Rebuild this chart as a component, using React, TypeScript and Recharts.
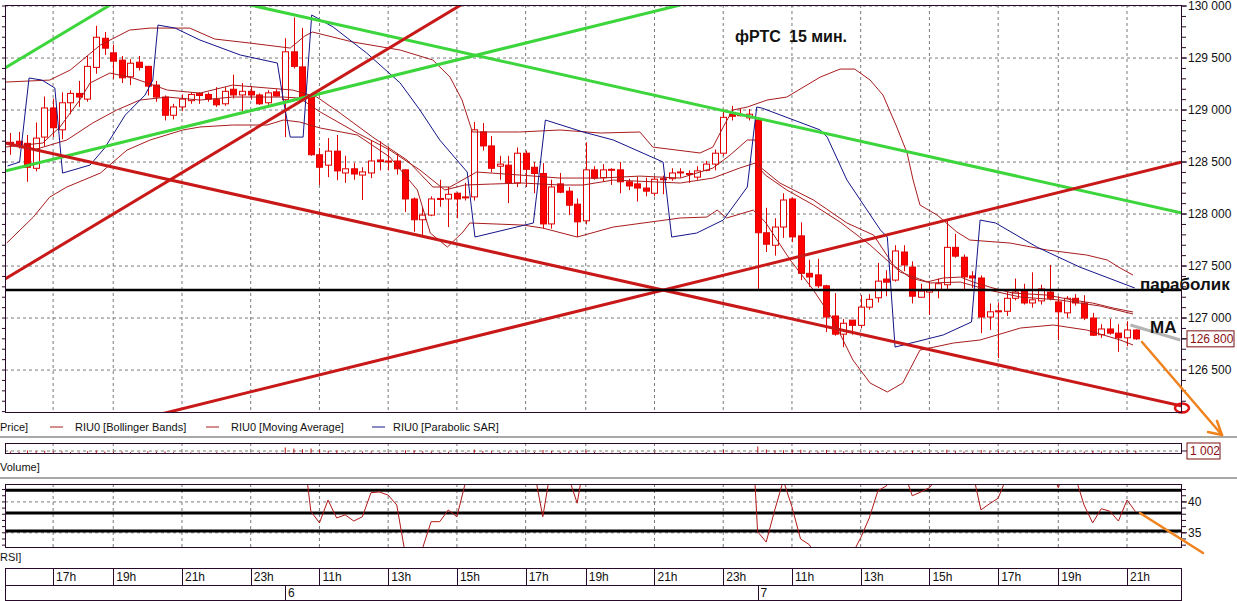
import React from "react";
import {
  Bar,
  CartesianGrid,
  ComposedChart,
  Line,
  ReferenceDot,
  ReferenceLine,
  XAxis,
  YAxis,
} from "recharts";

// RIU0 15 min candles, day 5 15:45 .. day 7 21:15 (index = candle number)
const opens = [
  128690, 128700, 128680, 128440, 128740, 129020, 128810, 129070, 129160, 129105,
  129410, 129690, 129550, 129480, 129320, 129460, 129420, 129240, 129125, 128950,
  129030, 129090, 129160, 129150, 129100, 129060, 129200, 129145, 129180, 129145,
  129070, 129175, 129100, 129560, 129415, 129125, 128570, 128470, 128605, 128395,
  128435, 128375, 128395, 128520, 128510, 128510, 128425, 128145, 127945, 127990,
  128150, 128145, 128200, 128165, 128165, 128790, 128655, 128460, 128470, 128300,
  128585, 128450, 128390, 127905, 128290, 128220, 128095, 127935, 128425, 128350,
  128420, 128425, 128310, 128290, 128250, 128200, 128330, 128340, 128400, 128390,
  128355, 128420, 128480, 128585, 128960, 128950, 128925, 128905, 127820, 127700,
  127875, 128145, 127790, 127430, 127415, 127310, 127020, 126845, 126980, 126930,
  127105, 127195, 127375, 127365, 127635, 127490, 127200, 127250, 127270, 127320,
  127680, 127585, 127405, 127385, 127010, 127060, 127065, 127190, 127270, 127145,
  127165, 127250, 127155, 127050, 127190, 127145, 127000, 126840, 126895, 126855,
  126810, 126885,
];
const highs = [
  128780, 128790, 128760, 128880, 129130, 129110, 129170, 129190, 129280, 129520,
  129810, 129750, 129630, 129520, 129490, 129520, 129425, 129280, 129140, 129060,
  129150, 129170, 129170, 129170, 129220, 129220, 129340, 129260, 129230, 129160,
  129190, 129200, 129690, 129890, 129790, 129150, 128635, 128730, 128760, 128560,
  128490, 128450, 128710, 128700, 128650, 128580, 128430, 128160, 128070, 128170,
  128330, 128260, 128210, 128300, 128885, 128875, 128750, 128560, 128560, 128640,
  128610, 128500, 128490, 128330, 128395, 128260, 128150, 128690, 128460, 128480,
  128440, 128500, 128340, 128360, 128350, 128360, 128370, 128440, 128440, 128420,
  128460, 128510, 128620, 129010, 129040, 129010, 129010, 128930, 128060, 127960,
  128200, 128160, 127920, 127560, 127570, 127320, 127240, 126990, 126980, 127220,
  127230, 127530, 127460, 127700, 127700, 127545, 127330, 127340, 127380, 127940,
  127810, 127610, 127450, 127410, 127140, 127150, 127250, 127380, 127330, 127440,
  127320, 127510, 127210, 127210, 127230, 127220, 127050, 126940, 126990, 126940,
  126970, 126890,
];
const lows = [
  128570, 128630, 128310, 128410, 128650, 128740, 128720, 128960, 129030, 129080,
  129350, 129530, 129300, 129260, 129240, 129380, 129140, 129080, 128900, 128910,
  128990, 129060, 129060, 129080, 129030, 129040, 129110, 128990, 129100, 129050,
  129050, 129130, 128740, 129400, 129100, 128560, 128280, 128355, 128325, 128300,
  128330, 128135, 128345, 128420, 128420, 128380, 128020, 127830, 127790, 127980,
  128070, 127875, 127960, 128130, 128130, 128610, 128400, 128330, 128105, 128260,
  128260, 128200, 127860, 127860, 128200, 127990, 127780, 127900, 128330, 128310,
  128280, 128200, 128230, 128120, 128170, 128170, 128190, 128320, 128350, 128300,
  128330, 128410, 128420, 128560, 128900, 128940, 128900, 127280, 127635, 127600,
  127770, 127730, 127365, 127300, 127290, 126865, 126830, 126720, 126840, 126900,
  127080, 127150, 127210, 127350, 127450, 127140, 127200, 127030, 127190, 127270,
  127580, 127280, 127290, 126855, 126885, 126615, 127020, 127170, 127130, 127100,
  127130, 127170, 126790, 127000, 127120, 126980, 126830, 126810, 126840, 126675,
  126730, 126790,
];
const closes = [
  128670, 128670, 128450, 128730, 129020, 128830, 129070, 129160, 129125, 129420,
  129700, 129595, 129470, 129310, 129450, 129410, 129230, 129125, 128950, 129030,
  129105, 129150, 129140, 129105, 129050, 129180, 129145, 129180, 129145, 129060,
  129165, 129135, 129560, 129420, 129125, 128570, 128450, 128605, 128415, 128435,
  128385, 128405, 128510, 128505, 128505, 128435, 128145, 127945, 127990, 128145,
  128140, 128190, 128145, 128155, 128810, 128655, 128440, 128480, 128300, 128585,
  128430, 128390, 127905, 128260, 128210, 128085, 127925, 128425, 128345, 128425,
  128430, 128310, 128270, 128250, 128220, 128335, 128340, 128395, 128405, 128380,
  128415, 128480, 128585, 128930, 128940, 128955, 128960, 127820, 127710, 127875,
  128135, 127780, 127430, 127395, 127310, 127010, 126845, 126950, 126930, 127105,
  127180, 127355, 127345, 127645, 127510, 127210, 127260, 127270, 127330, 127680,
  127595, 127395, 127385, 127010, 127060, 127070, 127190, 127250, 127145, 127175,
  127280, 127190, 127060, 127190, 127145, 127000, 126835, 126895, 126855, 126810,
  126885, 126800,
];
const volumes = [
  700, 500, 1300, 900, 1100, 800, 700, 500, 400, 900,
  1200, 700, 600, 800, 500, 400, 900, 600, 700, 400,
  300, 350, 250, 300, 400, 350, 300, 250, 300, 350,
  300, 200, 2800, 2200, 1900, 2300, 1500, 1100, 1200, 600,
  500, 700, 800, 400, 350, 500, 1400, 1300, 900, 700,
  500, 600, 400, 350, 1700, 1000, 900, 500, 800, 700,
  600, 500, 1500, 1000, 600, 700, 800, 1300, 600, 400,
  300, 500, 400, 350, 300, 500, 300, 350, 300, 250,
  400, 500, 700, 1600, 600, 300, 400, 3200, 1800, 1300,
  1400, 1500, 1600, 800, 700, 1500, 1300, 900, 600, 800,
  700, 1000, 500, 900, 800, 1100, 500, 600, 500, 1600,
  900, 800, 600, 1500, 700, 900, 600, 500, 700, 600,
  500, 700, 900, 600, 500, 800, 1000, 700, 600, 700,
  800, 1002,
];
const rsiValues = [
  52, 51, 45, 53, 60, 55, 60, 62, 61, 66,
  72, 68, 65, 60, 63, 61, 56, 53, 48, 51,
  53, 55, 54, 53, 51, 55, 53, 54, 53, 50,
  54, 53, 64, 58, 50, 38.5, 36.6, 40.3, 37.4, 37.9,
  36.9, 37.6, 41.5, 41.6, 41.1, 39.5, 31.5, 29, 32.5, 36.8,
  36.8, 38.7, 37.6, 43.2, 52, 48, 46, 46, 45, 48,
  46, 45, 37.6, 46, 45, 44, 39.8, 48, 47, 48,
  48, 46, 45, 44.5, 44, 47, 47, 48, 48, 47.5,
  48.5, 50, 53, 62, 61, 61, 61, 35.2, 33.5, 38.7,
  43.5, 39.2, 34.0, 33.1, 31, 28, 27, 29, 31.5, 34.2,
  37.4, 41.8, 42.6, 46, 45, 41.0, 41.6, 42.3, 44, 52,
  50, 47, 45, 38.7, 39.7, 40.6, 44, 46, 45, 47,
  48, 46, 42.3, 46, 44, 39.5, 36.6, 38.9, 38.5, 36.9,
  40.3, 38.4,
];

// indicator curves: [candle index, price]
const bbUpper = [
  [-0.6, 129269], [4.6, 129288], [7.0, 129385], [10.5, 129625], [13.9, 129769],
  [16.3, 129788], [20.9, 129788], [23.8, 129683], [27.9, 129644], [32.6, 129596],
  [34.3, 129712], [35.2, 129750], [39.9, 129654], [45.4, 129577], [49.2, 129481],
  [51.2, 129317], [52.6, 129096], [53.8, 128789], [59.3, 128789], [64.0, 128808],
  [68.7, 128779], [73.3, 128789], [74.8, 128644], [80.3, 128587], [81.8, 128644],
  [83.0, 128837], [84.1, 129000], [85.8, 129029], [88.1, 129096], [90.4, 129125],
  [94.3, 129317], [96.6, 129394], [98.3, 129394], [100.1, 129288], [101.6, 129144],
  [103.2, 128837], [104.4, 128587], [105.1, 128327], [105.9, 128087], [107.9, 127990],
  [110.2, 127827], [111.7, 127750], [116.4, 127721], [120.7, 127654], [125.3, 127606],
  [127.7, 127558], [129.2, 127481], [130.7, 127413],
];
const bbMiddle = [
  [-0.6, 128644], [3.8, 128683], [5.8, 128837], [8.1, 129096], [9.3, 129260],
  [11.6, 129356], [14.3, 129308], [18.3, 129192], [22.1, 129163], [25.9, 129240],
  [29.9, 129212], [32.9, 129192], [35.7, 129125], [38.4, 128971], [42.2, 128740],
  [46.2, 128519], [49.2, 128260], [51.2, 128260], [54.3, 128404], [59.3, 128375],
  [64.0, 128346], [68.7, 128346], [73.3, 128365], [78.0, 128346], [81.8, 128442],
  [83.8, 128567], [85.8, 128712], [86.7, 128712], [87.3, 128452], [89.6, 128298],
  [93.5, 128135], [97.4, 127914], [100.5, 127798], [102.8, 127510], [104.8, 127385],
  [106.7, 127346], [108.6, 127385], [110.6, 127394], [112.1, 127346], [114.4, 127289],
  [116.7, 127240], [120.7, 127221], [123.7, 127173], [126.0, 127144], [128.4, 127096],
  [130.7, 127058],
];
const maLine = [
  [2.7, 128615], [6.6, 128712], [9.6, 128875], [12.4, 129000], [15.1, 129096],
  [18.3, 129125], [22.1, 129096], [25.9, 129125], [31.8, 129125], [33.7, 129115],
  [36.1, 128981], [40.4, 128779], [44.2, 128615], [47.7, 128423], [50.6, 128231],
  [52.9, 128279], [55.9, 128288], [59.7, 128298], [64.0, 128279], [66.7, 128279],
  [70.2, 128327], [78.0, 128298], [81.8, 128346], [84.9, 128442], [86.7, 128490],
  [87.9, 128375], [90.4, 128231], [93.5, 128087], [96.6, 127923], [100.1, 127702],
  [103.6, 127442], [107.1, 127337], [110.6, 127346], [113.9, 127269], [117.6, 127202],
  [122.2, 127173], [126.9, 127115], [130.7, 127039],
];
const bbLower = [
  [-0.4, 127721], [2.7, 127971], [4.6, 128163], [6.6, 128260], [10.5, 128394],
  [13.6, 128615], [16.3, 128712], [20.1, 128808], [22.1, 128837], [25.9, 128856],
  [29.9, 128856], [31.8, 128904], [33.7, 128885], [36.1, 128827], [40.4, 128760],
  [44.2, 128548], [47.4, 128231], [48.9, 127817], [50.9, 127683], [52.7, 127827],
  [53.5, 127914], [59.7, 127894], [62.0, 127865], [66.0, 127779], [70.2, 127875],
  [78.0, 127962], [81.1, 127971], [82.3, 128038], [83.4, 127962], [86.5, 128038],
  [87.9, 127923], [90.8, 127558], [93.5, 127269], [95.8, 126981], [98.1, 126596],
  [100.1, 126375], [102.1, 126289], [103.9, 126375], [105.9, 126692], [109.8, 126760],
  [112.9, 126789], [117.6, 126904], [121.4, 126933], [125.3, 126885], [129.2, 126789],
  [130.7, 126741],
];
const parabolicSar = [
  [-0.3, 128462], [1.1, 128500], [2.2, 129308], [3.7, 129288], [5.2, 129212],
  [6.1, 128394], [9.3, 128471], [11.0, 128635], [13.4, 128952], [15.7, 129144],
  [16.6, 129288], [17.2, 129817], [19.2, 129788], [22.1, 129673], [26.8, 129529],
  [31.1, 129452], [31.8, 129096], [32.6, 128740], [34.1, 128740], [35.1, 129914],
  [37.6, 129798], [41.5, 129548], [45.4, 129260], [47.7, 129000], [50.0, 128712],
  [53.2, 128404], [54.1, 127779], [60.9, 127914], [62.3, 128904], [66.7, 128789],
  [70.2, 128712], [76.0, 128500], [77.0, 127779], [79.9, 127817], [83.0, 127942],
  [85.8, 128260], [86.9, 129029], [87.5, 129019], [94.3, 128808], [95.1, 128740],
  [97.4, 128327], [101.3, 127846], [102.1, 127779], [103.0, 126721], [108.6, 126837],
  [111.9, 126962], [112.9, 127942], [114.7, 127914], [119.5, 127683], [124.5, 127490],
  [130.9, 127289],
];

// hand drawn trend lines
const greenLine1 = [[-0.6, 129404], [22.1, 130529]];
const greenLine2 = [[-0.6, 128413], [136.4, 131197]];
const greenLine3 = [[-0.6, 130536], [136.4, 128010]];
const redLine1 = [[-0.6, 127375], [68.7, 130817]];
const redLine2 = [[-0.6, 128683], [136.4, 126154]];
const redLine3 = [[-0.6, 125707], [136.4, 128500]];
const maExtension = [[130.4, 126933], [136.2, 126789]];
const parabolicLevel = 127270;

const timeTicks = [5, 12, 20, 28, 36, 44, 52, 60, 67, 75, 83, 91, 99, 107, 115, 122, 130];
const timeLabels = ["17h", "19h", "21h", "23h", "11h", "13h", "15h", "17h", "19h", "21h", "23h", "11h", "13h", "15h", "17h", "19h", "21h"];
const dayTicks = [32, 87];
const dayLabels = ["6", "7"];

const priceTicks = [126500, 127000, 127500, 128000, 128500, 129000, 129500, 130000];
const priceMinor = Array.from({ length: 40 }, (_, k) => 126100 + k * 100);
const rsiTicks = [35, 40];
const rsiMinor = [33, 34, 35, 36, 37, 38, 39, 40, 41, 42];
const rsiLevels = [41.9, 38.2, 35.3];

const W = 1237;
const X_DOMAIN = [-0.6, 136.4];
const P_DOMAIN = [126087, 130010];
const FRAME = "#2a0a2a";
const IND = "#a81c1c";
const FONT = "'Liberation Sans', Arial, sans-serif";

const candles = opens.map((o, i) => ({
  i,
  open: o,
  high: highs[i],
  low: lows[i],
  close: closes[i],
  range: [lows[i], highs[i]],
  vol: volumes[i],
  rsi: rsiValues[i],
}));
const pts = (a: number[][]) => a.map(([i, v]) => ({ i, v }));

const fmt = (v: number) => String(v).replace(/\B(?=(\d{3})+(?!\d))/g, " ");

const Candle = (p: any) => {
  const { x, y, width, height, payload } = p;
  if (x == null || y == null) return <g />;
  const top = Math.min(y, y + height);
  const h = Math.abs(height);
  const { open, close, high, low } = payload;
  const k = high === low ? 0 : h / (high - low);
  const yO = top + (high - open) * k;
  const yC = top + (high - close) * k;
  const bTop = Math.min(yO, yC);
  const bH = Math.max(1, Math.abs(yO - yC));
  const cx = Math.round(x + width / 2) + 0.5;
  const up = close >= open;
  return (
    <g>
      <line x1={cx} x2={cx} y1={top} y2={top + h} stroke="#e00000" />
      <rect
        x={cx - 3}
        y={bTop}
        width={6}
        height={bH}
        fill={up ? "#ffffff" : "#ff0000"}
        stroke="#e00000"
      />
    </g>
  );
};

const Empty = () => <g />;

const PriceTick = (p: any) => {
  const v = p.payload.value;
  if (v % 500 !== 0) return <g />;
  return (
    <g>
      <line x1={p.x - 6} x2={p.x - 1} y1={p.y} y2={p.y} stroke={FRAME} />
      <text x={p.x} y={p.y} dy={4} fontSize={12} fill="#111" fontFamily={FONT}>
        {fmt(v)}
      </text>
    </g>
  );
};

const RsiTick = (p: any) => {
  const v = p.payload.value;
  if (!rsiTicks.includes(v)) return <g />;
  return (
    <g>
      <line x1={p.x - 6} x2={p.x - 1} y1={p.y} y2={p.y} stroke={FRAME} />
      <text x={p.x} y={p.y} dy={4} fontSize={12} fill="#111" fontFamily={FONT}>
        {v}
      </text>
    </g>
  );
};

const HourTick = (p: any) => {
  const idx = timeTicks.indexOf(p.payload.value);
  return (
    <g>
      <line x1={Math.round(p.x) + 0.5} x2={Math.round(p.x) + 0.5} y1={2} y2={19} stroke={FRAME} />
      <text x={p.x + 3} y={15} fontSize={12} fill="#111" fontFamily={FONT}>
        {timeLabels[idx]}
      </text>
    </g>
  );
};

const DayTick = (p: any) => {
  const idx = dayTicks.indexOf(p.payload.value);
  return (
    <g>
      <line x1={Math.round(p.x) + 0.5} x2={Math.round(p.x) + 0.5} y1={19} y2={34} stroke={FRAME} />
      <text x={p.x + 3} y={31} fontSize={12} fill="#111" fontFamily={FONT}>
        {dayLabels[idx]}
      </text>
    </g>
  );
};

const ValueBox = (text: string, w: number) => (p: any) => (
  <g>
    <line x1={p.cx} x2={p.cx + 5} y1={p.cy} y2={p.cy} stroke={FRAME} />
    <rect x={p.cx + 5} y={p.cy - 8} width={w} height={16} fill="#fff" stroke="#7a1010" />
    <text x={p.cx + 8} y={p.cy + 4} fontSize={12} fill="#8a1010" fontFamily={FONT}>
      {text}
    </text>
  </g>
);

const Ellipse = (p: any) => (
  <ellipse cx={p.cx} cy={p.cy + 2} rx={7} ry={4.5} fill="none" stroke="#e01010" strokeWidth={2.5} />
);

const thin = (data: number[][], stroke: string, key: string) => (
  <Line
    key={key}
    yAxisId="p"
    data={pts(data)}
    dataKey="v"
    type="linear"
    stroke={stroke}
    strokeWidth={1}
    dot={false}
    isAnimationActive={false}
  />
);

const thick = (data: number[][], stroke: string, key: string, w = 3) => (
  <Line
    key={key}
    yAxisId="p"
    data={pts(data)}
    dataKey="v"
    type="linear"
    stroke={stroke}
    strokeWidth={w}
    dot={false}
    isAnimationActive={false}
  />
);

export default function App() {
  const lastClose = closes[closes.length - 1];
  const lastVol = volumes[volumes.length - 1];
  return (
    <div
      style={{
        position: "absolute",
        left: 0,
        top: 0,
        width: W,
        height: 601,
        background: "#fff",
        overflow: "hidden",
        fontFamily: FONT,
      }}
    >
      {/* price panel */}
      <div style={{ position: "absolute", left: 0, top: 0 }}>
        <ComposedChart width={W} height={420} data={candles} margin={{ top: 5, right: 0, bottom: 7, left: 0 }}>
          <CartesianGrid
            yAxisId="p"
            stroke="#7a7a7a"
            strokeDasharray="3 3"
            horizontalValues={priceTicks}
            verticalValues={timeTicks}
          />
          <XAxis dataKey="i" type="number" domain={X_DOMAIN} allowDataOverflow hide />
          <YAxis
            yAxisId="l"
            orientation="left"
            width={5}
            domain={P_DOMAIN}
            allowDataOverflow
            ticks={priceMinor}
            interval={0}
            tick={<Empty />}
            tickSize={3}
            tickLine={{ stroke: FRAME }}
            axisLine={false}
          />
          <YAxis
            yAxisId="p"
            orientation="right"
            width={55}
            domain={P_DOMAIN}
            allowDataOverflow
            ticks={priceMinor}
            interval={0}
            tick={<PriceTick />}
            tickSize={4}
            tickMargin={2}
            tickLine={{ stroke: FRAME }}
            axisLine={false}
          />
          <Bar yAxisId="p" dataKey="range" barSize={7} shape={<Candle />} isAnimationActive={false} />
          {thin(bbUpper, IND, "bbu")}
          {thin(bbMiddle, IND, "bbm")}
          {thin(maLine, IND, "ma")}
          {thin(bbLower, IND, "bbl")}
          {thin(parabolicSar, "#14148a", "sar")}
          {thick(greenLine1, "#3cd63c", "g1")}
          {thick(greenLine2, "#3cd63c", "g2")}
          {thick(greenLine3, "#3cd63c", "g3")}
          {thick(redLine1, "#c81818", "r1")}
          {thick(redLine2, "#c81818", "r2")}
          {thick(redLine3, "#c81818", "r3")}
          {thick(maExtension, "#b4b4b4", "mx", 3)}
          <ReferenceLine yAxisId="p" y={parabolicLevel} stroke="#000" strokeWidth={2.5} />
          <ReferenceDot
            yAxisId="p"
            x={X_DOMAIN[1]}
            y={redLine2[1][1]}
            ifOverflow="visible"
            shape={<Ellipse />}
          />
          <ReferenceDot
            yAxisId="p"
            x={X_DOMAIN[1]}
            y={lastClose}
            ifOverflow="visible"
            shape={ValueBox(fmt(lastClose), 47)}
          />
        </ComposedChart>
      </div>

      {/* volume panel */}
      <div style={{ position: "absolute", left: 0, top: 441 }}>
        <ComposedChart width={W} height={24} data={candles} margin={{ top: 2, right: 55, bottom: 12, left: 5 }}>
          <CartesianGrid stroke="#7a7a7a" strokeDasharray="3 3" horizontalValues={[1000]} verticalValues={timeTicks} />
          <XAxis dataKey="i" type="number" domain={X_DOMAIN} allowDataOverflow hide />
          <YAxis hide domain={[0, 5000]} allowDataOverflow />
          <Bar dataKey="vol" barSize={1} fill="#c01010" isAnimationActive={false} />
          <ReferenceDot
            x={X_DOMAIN[1]}
            y={lastVol}
            ifOverflow="visible"
            shape={ValueBox(fmt(lastVol), 33)}
          />
        </ComposedChart>
      </div>

      {/* RSI panel */}
      <div style={{ position: "absolute", left: 0, top: 480 }}>
        <ComposedChart width={W} height={70} data={candles} margin={{ top: 4, right: 0, bottom: 3, left: 0 }}>
          <CartesianGrid
            yAxisId="r"
            stroke="#7a7a7a"
            strokeDasharray="3 3"
            horizontalValues={rsiTicks}
            verticalValues={timeTicks}
          />
          <XAxis dataKey="i" type="number" domain={X_DOMAIN} allowDataOverflow hide />
          <YAxis
            yAxisId="rl"
            orientation="left"
            width={5}
            domain={[32.7, 42.9]}
            allowDataOverflow
            ticks={rsiMinor}
            interval={0}
            tick={<Empty />}
            tickSize={3}
            tickLine={{ stroke: FRAME }}
            axisLine={false}
          />
          <YAxis
            yAxisId="r"
            orientation="right"
            width={55}
            domain={[32.7, 42.9]}
            allowDataOverflow
            ticks={rsiMinor}
            interval={0}
            tick={<RsiTick />}
            tickSize={4}
            tickMargin={2}
            tickLine={{ stroke: FRAME }}
            axisLine={false}
          />
          {rsiLevels.map((lv) => (
            <ReferenceLine key={lv} yAxisId="r" y={lv} stroke="#000" strokeWidth={3} />
          ))}
          <Line
            yAxisId="r"
            dataKey="rsi"
            type="linear"
            stroke="#b01818"
            strokeWidth={1}
            dot={false}
            isAnimationActive={false}
          />
        </ComposedChart>
      </div>

      {/* time axis */}
      <div style={{ position: "absolute", left: 0, top: 566 }}>
        <ComposedChart width={W} height={35} data={candles} margin={{ top: 0, right: 55, bottom: 0, left: 5 }}>
          <XAxis
            xAxisId="h"
            dataKey="i"
            type="number"
            domain={X_DOMAIN}
            allowDataOverflow
            orientation="top"
            ticks={timeTicks}
            interval={0}
            tick={<HourTick />}
            tickLine={false}
            axisLine={false}
            height={1}
          />
          <XAxis
            xAxisId="d"
            dataKey="i"
            type="number"
            domain={X_DOMAIN}
            allowDataOverflow
            orientation="top"
            ticks={dayTicks}
            interval={0}
            tick={<DayTick />}
            tickLine={false}
            axisLine={false}
            height={1}
          />
          <YAxis hide />
          <Line xAxisId="h" dataKey="close" stroke="none" dot={false} isAnimationActive={false} />
        </ComposedChart>
      </div>

      {/* frames, separators, labels and hand drawn marks */}
      <svg
        width={W}
        height={601}
        style={{ position: "absolute", left: 0, top: 0, pointerEvents: "none" }}
        fontFamily={FONT}
      >
        <rect x={5.5} y={5.5} width={1176} height={407} fill="none" stroke={FRAME} />
        <rect x={5.5} y={443.5} width={1176} height={10} fill="none" stroke={FRAME} />
        <rect x={5.5} y={484.5} width={1176} height={63} fill="none" stroke={FRAME} />
        <rect x={5.5} y={568.5} width={1176} height={32} fill="none" stroke={FRAME} />
        <line x1={5} x2={1182} y1={585.5} y2={585.5} stroke={FRAME} />
        <line x1={0} x2={W} y1={437} y2={437} stroke="#a8a8a8" strokeWidth={2} />
        <line x1={0} x2={W} y1={478} y2={478} stroke="#a8a8a8" strokeWidth={2} />

        <text x={735} y={42} fontSize={16} fontWeight="bold" fill="#111">фРТС</text>
        <text x={789} y={42} fontSize={16} fontWeight="bold" fill="#111">15 мин.</text>
        <text x={1140} y={290} fontSize={17} fontWeight="bold" fill="#111">параболик</text>
        <text x={1150} y={333} fontSize={17} fontWeight="bold" fill="#111">MA</text>

        <text x={0} y={431} fontSize={11} fill="#111">Price]</text>
        <line x1={50} x2={63} y1={427} y2={427} stroke={IND} />
        <text x={75} y={431} fontSize={11} fill="#111">RIU0 [Bollinger Bands]</text>
        <line x1={206} x2={219} y1={427} y2={427} stroke={IND} />
        <text x={231} y={431} fontSize={11} fill="#111">RIU0 [Moving Average]</text>
        <line x1={372} x2={385} y1={427} y2={427} stroke="#14148a" />
        <text x={393} y={431} fontSize={11} fill="#111">RIU0 [Parabolic SAR]</text>
        <text x={0} y={471} fontSize={11} fill="#111">Volume]</text>
        <text x={0} y={561} fontSize={11} fill="#111">RSI]</text>

        <g stroke="#f0821e" strokeWidth={2.5} fill="none" strokeLinecap="round">
          <line x1={1142} y1={342} x2={1222} y2={435} />
          <line x1={1208} y1={432} x2={1222} y2={435} />
          <line x1={1217} y1={421} x2={1222} y2={435} />
          <line x1={1140} y1={513} x2={1203} y2={553} />
        </g>
      </svg>
    </div>
  );
}
